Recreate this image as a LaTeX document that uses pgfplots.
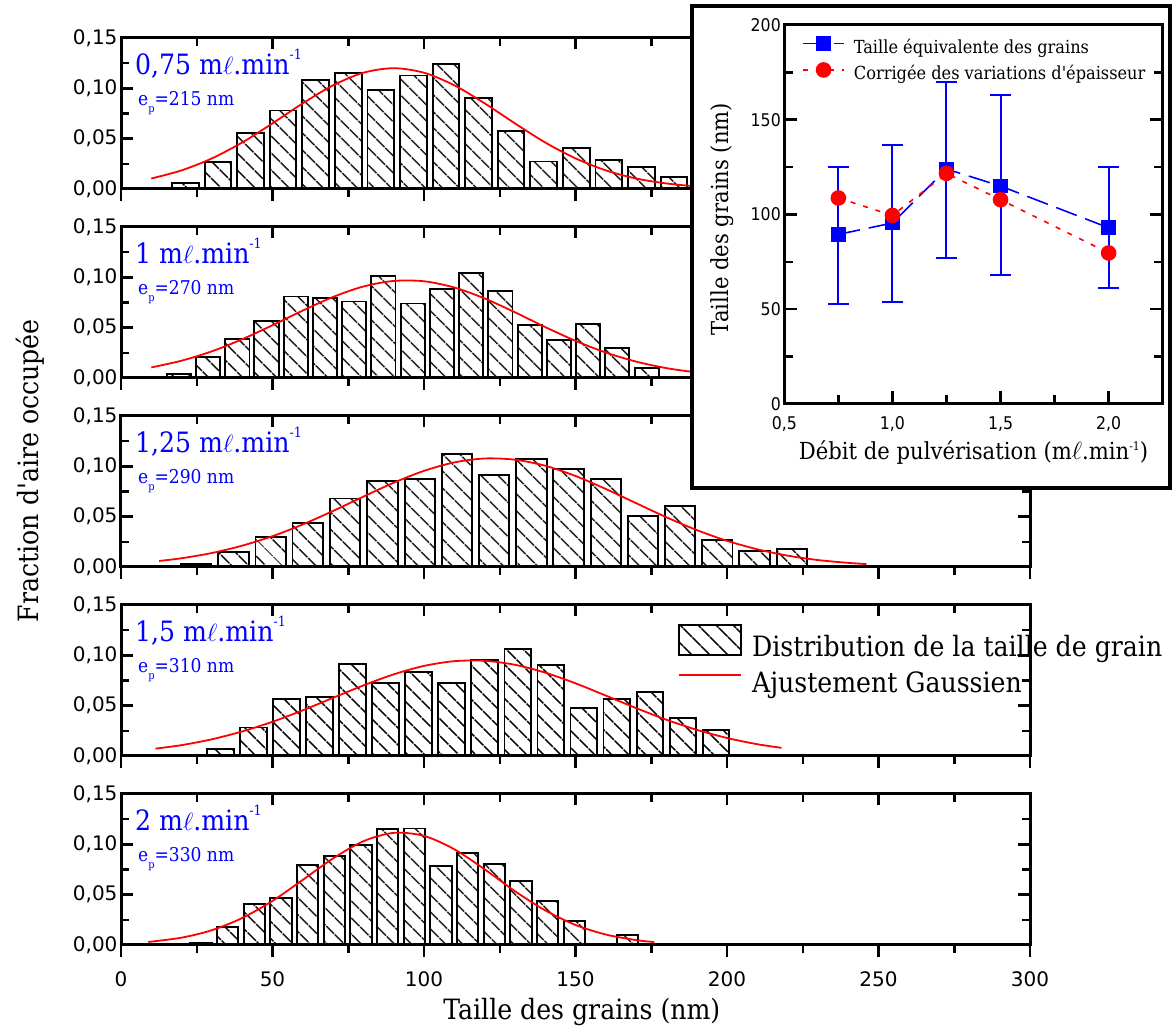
\documentclass[border=0pt]{standalone}
\usepackage{pgfplots}
\pgfplotsset{compat=1.18}
\usetikzlibrary{patterns.meta}
\usepackage{fontspec}
\setmainfont{DejaVu Serif Condensed}[Ligatures=TeXOff]
\newfontfamily\tickfont{DejaVu Sans}
\newfontfamily\tickcond{DejaVu Sans Condensed}

\pgfplotsset{
  panel/.style={
    scale only axis, width=909pt, height=151pt,
    xmin=0, xmax=300, ymin=0, ymax=0.15,
    axis line style={line width=3pt},
    xtick={0,50,...,300}, minor xtick={25,75,...,275},
    ytick={0,0.05,0.1,0.15}, minor ytick={0.025,0.075,0.125},
    xtick pos=left, xtick align=outside,
    ytick pos=both, ytick align=inside, yticklabel pos=left,
    major tick length=12pt, minor tick length=8pt,
    every tick/.style={line width=2.5pt, black},
    scaled y ticks=false,
    yticklabel style={font=\tickfont\fontsize{20}{20}\selectfont, /pgf/number format/.cd, fixed, fixed zerofill, precision=2, use comma, assume math mode=true},
    xticklabel style={font=\tickfont\fontsize{20}{20}\selectfont, yshift=-11pt, /pgf/number format/assume math mode=true},
  },
  topticks/.style={
    scale only axis, width=909pt, height=151pt,
    xmin=0, xmax=300, ymin=0, ymax=0.15,
    axis line style={draw=none},
    xtick={0,50,...,300}, minor xtick={25,75,...,275},
    ytick=\empty, xtick pos=right, xtick align=inside, xticklabels={},
    major tick length=11pt, minor tick length=8pt,
    every tick/.style={line width=2.5pt, black},
  },
  bars/.style={ybar, draw=black, line width=1.9pt, pattern={Lines[angle=-45,distance=13pt,line width=1.8pt]}},
  fit/.style={red, line width=1.8pt, smooth},
  barleg/.style={legend image code/.code={\draw[##1] (0pt,-7pt) rectangle (62pt,23pt);}},
  lineleg/.style={legend image code/.code={\draw[##1] (0pt,9pt) -- (62pt,9pt);}},
  insetleg/.style={legend image code/.code={\draw[mark repeat=2, mark phase=2, ##1] plot coordinates {(0pt,5pt) (20.5pt,5pt) (41pt,5pt)};}},
}

\newcommand\plab[2]{%
  \node[anchor=base west, inner sep=0pt, text=blue, font=\fontsize{28}{28}\selectfont] at (axis description cs:0.0154,0.755) {#1 m$\ell$.min\raisebox{15pt}{\fontsize{14}{14}\selectfont -1}};
  \node[anchor=base west, inner sep=0pt, text=blue, font=\fontsize{19}{19}\selectfont] at (axis description cs:0.0187,0.555) {e\raisebox{-7pt}{\fontsize{11}{11}\selectfont p}=#2 nm};
}

\begin{document}
\begin{tikzpicture}[x=1pt,y=1pt]
\path[use as bounding box] (0,0) rectangle (1173,1028);

% ---------- Panel 1 : 0,75
\begin{axis}[panel, at={(121pt,839pt)}, anchor=south west, xticklabels={}]
\addplot[bars, bar width=8.8] coordinates {
(21.25,0.0057) (32,0.0267) (42.75,0.056) (53.5,0.078) (64.25,0.108) (75,0.115)
(85.75,0.098) (96.5,0.1127) (107.25,0.124) (118,0.0907) (128.75,0.058) (139.5,0.0273)
(150.25,0.041) (161,0.029) (171.75,0.0217) (182.5,0.012)};
\addplot[fit] coordinates {
(10,0.0104) (20,0.0185) (30,0.0304) (40,0.0462) (50,0.0652) (60,0.0851) (70,0.1030)
(80,0.1155) (90,0.1200) (100,0.1155) (110,0.1030) (120,0.0851) (130,0.0652) (140,0.0462)
(150,0.0304) (160,0.0185) (170,0.0104) (180,0.0055) (190,0.0026) (200,0.0012)};
\plab{0,75}{215}
\end{axis}
\begin{axis}[topticks, at={(121pt,839pt)}, anchor=south west]\end{axis}

% ---------- Panel 2 : 1
\begin{axis}[panel, at={(121pt,650pt)}, anchor=south west, xticklabels={}]
\addplot[bars, bar width=8] coordinates {
(19.1,0.004) (28.75,0.021) (38.4,0.039) (48,0.0563) (57.7,0.081) (67.3,0.0797)
(77,0.076) (86.6,0.101) (96.3,0.074) (105.9,0.0883) (115.6,0.1047) (125.2,0.086)
(134.9,0.053) (144.5,0.038) (154.2,0.0537) (163.8,0.030) (173.5,0.010)};
\addplot[fit] coordinates {
(10,0.0105) (20,0.0172) (30,0.0265) (40,0.0385) (50,0.0524) (60,0.0670) (70,0.0805)
(80,0.0909) (90,0.0964) (100,0.0961) (110,0.0899) (120,0.0790) (130,0.0653) (140,0.0506)
(150,0.0369) (160,0.0253) (170,0.0163) (180,0.0098) (190,0.0056) (200,0.0030)};
\plab{1}{270}
\end{axis}
\begin{axis}[topticks, at={(121pt,650pt)}, anchor=south west]\end{axis}

% ---------- Panel 3 : 1,25
\begin{axis}[panel, at={(121pt,461pt)}, anchor=south west, xticklabels={},
  ylabel={Fraction d'aire occupée},
  ylabel style={at={(axis description cs:-0.1001,0.638)}, anchor=center, font=\fontsize{28}{28}\selectfont}]
\addplot[bars, bar width=10] coordinates {
(24.8,0.003) (37.1,0.015) (49.4,0.030) (61.6,0.044) (74,0.068) (86.3,0.0857)
(98.6,0.0873) (110.9,0.1123) (123.2,0.091) (135.5,0.1077) (147.7,0.0973) (160,0.0877)
(172.3,0.051) (184.5,0.0603) (196.8,0.027) (209.1,0.016) (221.4,0.018)};
\addplot[fit] coordinates {
(12.6,0.0060) (20,0.0087) (30,0.0139) (40,0.0212) (50,0.0306) (60,0.0423) (70,0.0557)
(80,0.0699) (90,0.0837) (100,0.0955) (110,0.1039) (120,0.1078) (130,0.1066) (140,0.1006)
(150,0.0904) (160,0.0775) (170,0.0634) (180,0.0494) (190,0.0367) (200,0.0260) (210,0.0176)
(220,0.0113) (230,0.0069) (240,0.0041) (246,0.0029)};
\plab{1,25}{290}
\end{axis}
\begin{axis}[topticks, at={(121pt,461pt)}, anchor=south west]\end{axis}

% ---------- Panel 4 : 1,5
\begin{axis}[panel, at={(121pt,272pt)}, anchor=south west, xticklabels={},
  legend style={at={(0.6128,0.874)}, anchor=north west, draw=none, fill=none, inner sep=0pt,
    row sep=6pt, nodes={inner sep=0pt, text height=23pt, text depth=7pt, font=\fontsize{28}{28}\selectfont},
    /tikz/every odd column/.append style={column sep=10pt}},
  legend cell align=left]
\addplot[bars, bar width=8.7, barleg] coordinates {
(32.8,0.0067) (43.7,0.0283) (54.6,0.0563) (65.5,0.0583) (76.4,0.0913) (87.3,0.0727)
(98.2,0.083) (109.1,0.0727) (120,0.0957) (130.9,0.1067) (141.8,0.0903) (152.7,0.0477)
(163.6,0.0563) (174.5,0.0637) (185.4,0.0373) (196.3,0.0257)};
\addlegendentry{Distribution de la taille de grain}
\addplot[fit, lineleg] coordinates {
(11.4,0.0073) (20,0.0108) (30,0.0166) (40,0.0244) (50,0.0340) (60,0.0454) (70,0.0578)
(80,0.0701) (90,0.0811) (100,0.0895) (110,0.0942) (120,0.0946) (130,0.0906) (140,0.0828)
(150,0.0722) (160,0.0600) (170,0.0476) (180,0.0360) (190,0.0260) (200,0.0179) (210,0.0117)
(218,0.0081)};
\addlegendentry{Ajustement Gaussien}
\plab{1,5}{310}
\end{axis}
\begin{axis}[topticks, at={(121pt,272pt)}, anchor=south west]\end{axis}

% ---------- Panel 5 : 2
\begin{axis}[panel, at={(121pt,83pt)}, anchor=south west,
  xlabel={Taille des grains (nm)},
  xlabel style={at={(axis description cs:0.507,0)}, anchor=center, yshift=-67pt, font=\fontsize{28}{28}\selectfont}]
\addplot[bars, bar width=7] coordinates {
(26.4,0.0017) (35.2,0.018) (44,0.0403) (52.8,0.0463) (61.6,0.0793) (70.4,0.0887)
(79.2,0.0993) (88,0.115) (96.8,0.1157) (105.6,0.0783) (114.4,0.0917) (123.2,0.0803)
(132,0.064) (140.8,0.0433) (149.6,0.0237) (167.2,0.0097)};
\addplot[fit] coordinates {
(9,0.0030) (20,0.0073) (30,0.0147) (40,0.0268) (50,0.0438) (60,0.0647) (70,0.0860)
(80,0.1031) (90,0.1114) (100,0.1084) (110,0.0951) (120,0.0752) (130,0.0535) (140,0.0344)
(150,0.0199) (160,0.0104) (170,0.0049) (176,0.0029)};
\plab{2}{330}
\end{axis}
\begin{axis}[topticks, at={(121pt,83pt)}, anchor=south west]\end{axis}

% ---------- Inset
\fill[white] (692,540) rectangle (1170,1022);
\draw[line width=4pt] (692,540) rectangle (1170,1022);
\begin{axis}[scale only axis, width=378.4pt, height=379pt, at={(784.3pt,624pt)}, anchor=south west,
  xmin=0.5, xmax=2.25, ymin=0, ymax=200,
  axis line style={line width=3pt},
  xtick={0.5,1,1.5,2}, minor xtick={0.75,1.25,1.75},
  ytick={0,50,...,200}, minor ytick={25,75,...,175},
  xtick pos=left, ytick pos=both, yticklabel pos=left, tick align=inside,
  major tick length=13pt, minor tick length=9pt,
  every tick/.style={line width=2.5pt, black},
  xticklabel style={font=\tickcond\fontsize{17.5}{17.5}\selectfont, yshift=-9pt, /pgf/number format/.cd, fixed, fixed zerofill, precision=1, use comma, assume math mode=true},
  yticklabel style={font=\tickcond\fontsize{17.5}{17.5}\selectfont, /pgf/number format/.cd, fixed, precision=0, assume math mode=true},
  xlabel={Débit de pulvérisation (m$\ell$.min\raisebox{9pt}{\fontsize{12}{12}\selectfont -1})},
  xlabel style={at={(axis description cs:0.5,0)}, anchor=center, yshift=-49pt, font=\fontsize{23.5}{23.5}\selectfont},
  ylabel={Taille des grains (nm)},
  ylabel style={at={(axis description cs:-0.1646,0.488)}, anchor=center, font=\fontsize{23.5}{23.5}\selectfont},
  legend style={at={(0.047,0.969)}, anchor=north west, draw=none, fill=none, inner sep=0pt,
    row sep=5.5pt, nodes={inner sep=0pt, text height=14pt, text depth=4pt, font=\fontsize{18}{18}\selectfont},
    /tikz/every odd column/.append style={column sep=9pt}},
  legend cell align=left, insetleg]
\addplot[blue, line width=1.6pt, dash pattern=on 22pt off 9pt, mark=square*, mark size=6.5pt, mark options={solid},
  error bars/.cd, y dir=both, y explicit,
  error bar style={line width=2pt, solid, blue},
  error mark options={rotate=90, mark size=10.5pt, line width=2pt, blue, solid}]
coordinates {
(0.75,89.5) += (0,35.5) -= (0,36.5)
(1.0,95.5) += (0,41) -= (0,41.5)
(1.25,124) += (0,46) -= (0,47)
(1.5,115) += (0,48) -= (0,47)
(2.0,93) += (0,32) -= (0,32)};
\addlegendentry{Taille équivalente des grains}
\addplot[red, line width=1.6pt, dash pattern=on 5pt off 8pt, mark=*, mark size=7pt, mark options={solid}]
coordinates {(0.75,108.7) (1.0,99.5) (1.25,121.7) (1.5,107.8) (2.0,79.7)};
\addlegendentry{Corrigée des variations d'épaisseur}
\end{axis}
\end{tikzpicture}
\end{document}
